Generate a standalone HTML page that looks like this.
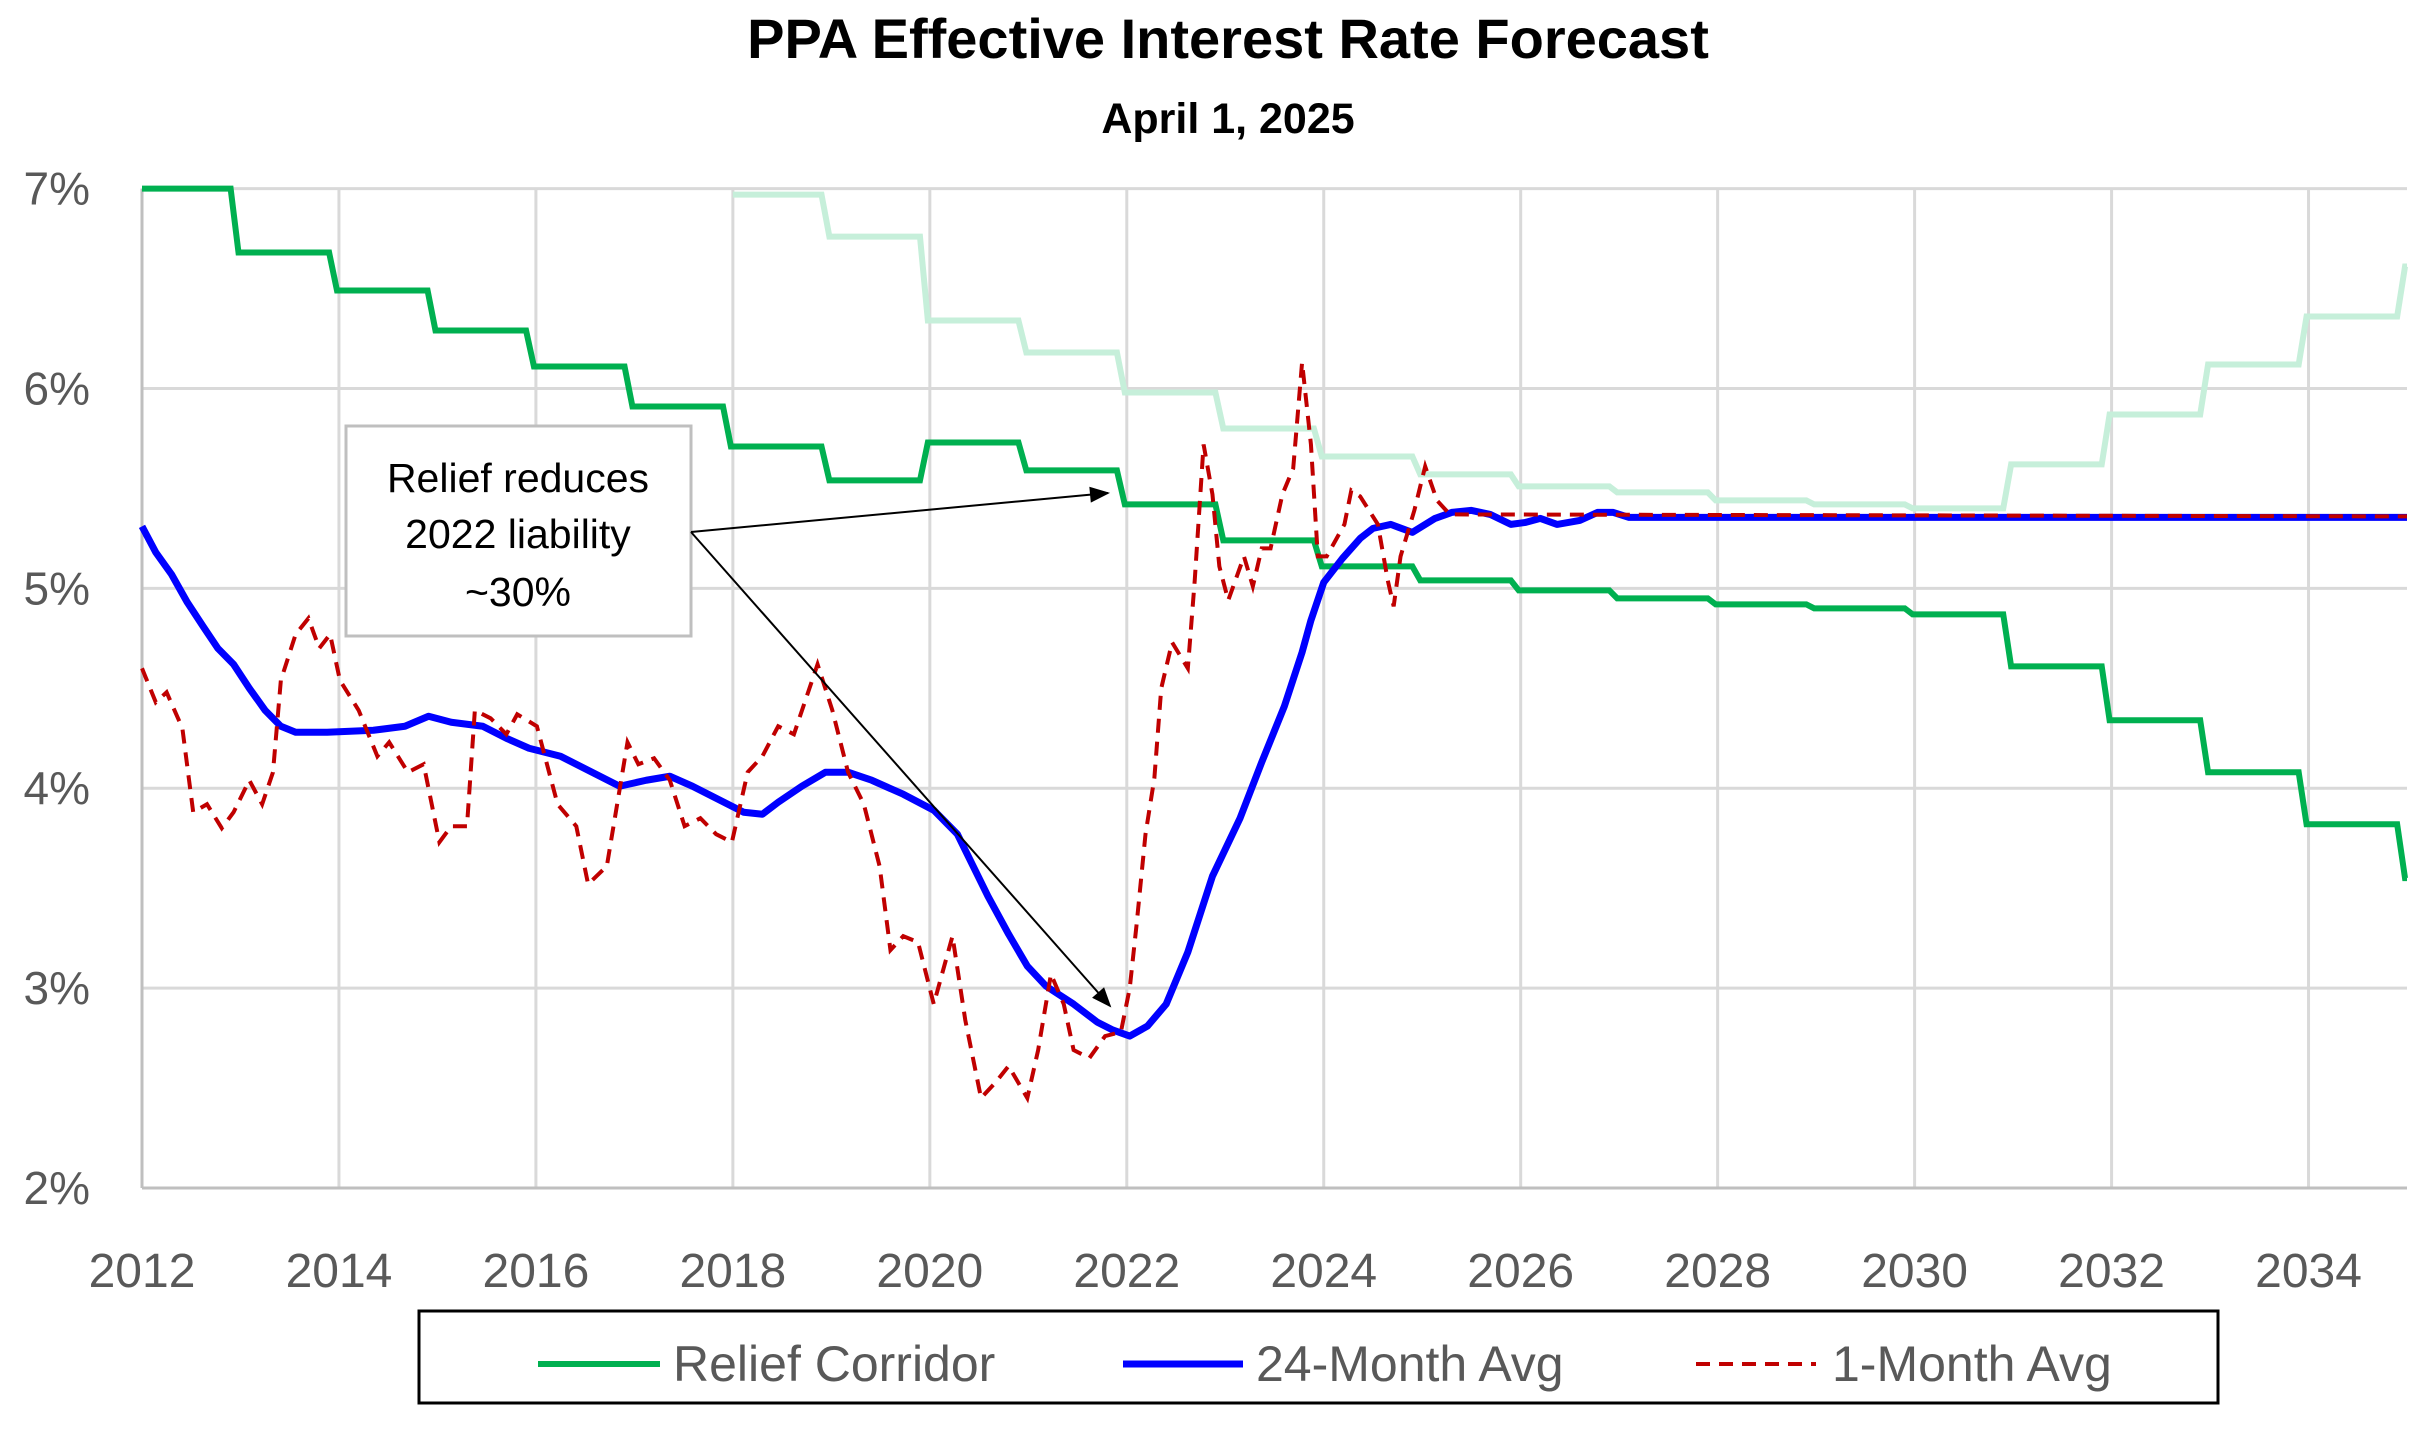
<!DOCTYPE html>
<html><head><meta charset="utf-8"><style>
html,body{margin:0;padding:0;background:#fff;}
svg{display:block;font-family:"Liberation Sans",sans-serif;}
</style></head><body>
<svg id="chart" width="2432" height="1435" viewBox="0 0 2432 1435" xmlns="http://www.w3.org/2000/svg">
<text x="1228" y="58" text-anchor="middle" font-size="56" font-weight="bold" fill="#000">PPA Effective Interest Rate Forecast</text>
<text x="1228" y="133" text-anchor="middle" font-size="43" font-weight="bold" fill="#000">April 1, 2025</text>
<g id="grid"></g>
<g id="series"></g>
<g id="annot">
<rect x="346" y="426" width="345" height="210" fill="#fff" stroke="#bfbfbf" stroke-width="3"/>
<text font-size="41" text-anchor="middle" fill="#000"><tspan x="518" y="492">Relief reduces</tspan><tspan x="518" y="548">2022 liability</tspan><tspan x="518" y="606">~30%</tspan></text>
</g>
<g id="legend">
<rect x="419" y="1311" width="1799" height="92" fill="#fff" stroke="#000" stroke-width="3"/>
<g><line x1="538" y1="1364" x2="660" y2="1364" stroke="#00b050" stroke-width="6"/><text x="673" y="1381" font-size="50" fill="#595959">Relief Corridor</text></g>
<g><line x1="1123" y1="1364" x2="1243" y2="1364" stroke="#0000ff" stroke-width="7"/><text x="1256" y="1381" font-size="50" fill="#595959">24-Month Avg</text></g>
<g><line x1="1696" y1="1364" x2="1816" y2="1364" stroke="#c00000" stroke-width="4" stroke-dasharray="14,9"/><text x="1832" y="1381" font-size="50" fill="#595959">1-Month Avg</text></g>
</g>
</svg>
<script>
const yearTicks = [2012,2014,2016,2018,2020,2022,2024,2026,2028,2030,2032,2034];
const rateTicks = [2,3,4,5,6,7];
const corridorYears = [2012,2013,2014,2015,2016,2017,2018,2019,2020,2021,2022,2023,2024,2025,2026,2027,2028,2029,2030,2031,2032,2033,2034,2035];
const corridorLow = [7.0,6.68,6.49,6.29,6.11,5.91,5.71,5.54,5.73,5.59,5.42,5.24,5.11,5.04,4.99,4.95,4.92,4.90,4.87,4.61,4.34,4.08,3.82,3.55];
const corridorHighYears = [2018,2019,2020,2021,2022,2023,2024,2025,2026,2027,2028,2029,2030,2031,2032,2033,2034,2035];
const corridorHigh = [6.97,6.76,6.34,6.18,5.98,5.80,5.66,5.57,5.51,5.48,5.44,5.42,5.40,5.62,5.87,6.12,6.36,6.61];
const avg24Years = [2012.00,2012.14,2012.30,2012.46,2012.62,2012.77,2012.93,2013.09,2013.25,2013.41,2013.56,2013.88,2014.35,2014.67,2014.91,2015.14,2015.46,2015.70,2015.93,2016.25,2016.57,2016.85,2017.12,2017.36,2017.59,2017.83,2018.11,2018.30,2018.46,2018.70,2018.94,2019.17,2019.41,2019.73,2020.04,2020.28,2020.44,2020.59,2020.80,2020.99,2021.18,2021.46,2021.70,2021.86,2022.03,2022.21,2022.40,2022.62,2022.87,2023.15,2023.37,2023.60,2023.78,2023.87,2024.00,2024.19,2024.37,2024.50,2024.68,2024.90,2025.13,2025.30,2025.50,2025.69,2025.90,2026.05,2026.20,2026.37,2026.60,2026.78,2026.94,2027.10,2035.0];
const avg24 = [5.31,5.18,5.07,4.93,4.81,4.70,4.62,4.50,4.39,4.31,4.28,4.28,4.29,4.31,4.36,4.33,4.31,4.25,4.20,4.16,4.08,4.01,4.04,4.06,4.01,3.95,3.88,3.87,3.93,4.01,4.08,4.08,4.04,3.97,3.89,3.77,3.61,3.46,3.27,3.11,3.01,2.92,2.83,2.79,2.76,2.81,2.92,3.18,3.56,3.85,4.13,4.41,4.68,4.84,5.03,5.15,5.25,5.30,5.32,5.28,5.35,5.38,5.39,5.37,5.32,5.33,5.35,5.32,5.34,5.38,5.38,5.355,5.355];
const avg1Years = [2012.00,2012.14,2012.25,2012.41,2012.52,2012.66,2012.81,2012.93,2013.09,2013.22,2013.33,2013.41,2013.56,2013.69,2013.80,2013.91,2014.01,2014.20,2014.39,2014.51,2014.70,2014.86,2015.02,2015.14,2015.30,2015.38,2015.54,2015.70,2015.81,2016.01,2016.22,2016.41,2016.53,2016.72,2016.93,2017.04,2017.20,2017.36,2017.51,2017.67,2017.83,2017.99,2018.15,2018.30,2018.46,2018.62,2018.86,2019.01,2019.17,2019.33,2019.49,2019.60,2019.73,2019.88,2020.04,2020.23,2020.36,2020.52,2020.67,2020.80,2020.99,2021.10,2021.23,2021.36,2021.46,2021.62,2021.78,2021.94,2022.03,2022.10,2022.19,2022.28,2022.35,2022.46,2022.62,2022.69,2022.78,2022.87,2022.94,2023.03,2023.19,2023.28,2023.37,2023.46,2023.58,2023.69,2023.78,2023.87,2023.94,2024.03,2024.12,2024.21,2024.28,2024.37,2024.55,2024.65,2024.71,2024.78,2024.92,2025.03,2025.15,2025.28,2035.0];
const avg1 = [4.60,4.43,4.48,4.30,3.88,3.92,3.80,3.88,4.04,3.92,4.08,4.54,4.77,4.85,4.70,4.77,4.54,4.39,4.16,4.23,4.08,4.12,3.73,3.81,3.81,4.39,4.35,4.27,4.37,4.31,3.92,3.81,3.52,3.61,4.23,4.12,4.15,4.04,3.81,3.85,3.77,3.73,4.08,4.16,4.31,4.27,4.62,4.39,4.08,3.92,3.61,3.19,3.26,3.23,2.92,3.26,2.84,2.45,2.53,2.61,2.45,2.69,3.07,2.92,2.69,2.65,2.76,2.78,3.00,3.32,3.77,4.05,4.50,4.73,4.60,5.04,5.72,5.47,5.11,4.94,5.16,5.01,5.20,5.20,5.47,5.60,6.13,5.72,5.16,5.16,5.24,5.32,5.49,5.46,5.32,5.04,4.91,5.16,5.39,5.61,5.44,5.37,5.36];

const X0=142, X1=2407, Y0=1188, Y1=188.6;
function xs(yr){return X0+(yr-2012)/(2035-2012)*(X1-X0);}
function ys(v){return Y0-(v-2)/(7-2)*(Y0-Y1);}
const NS="http://www.w3.org/2000/svg";
function mk(tag,parent,attrs){const e=document.createElementNS(NS,tag);for(const k in attrs)e.setAttribute(k,attrs[k]);parent.appendChild(e);return e;}
const grid=document.getElementById('grid');
rateTicks.forEach(v=>{
  const l=mk('line',grid,{x1:X0,x2:X1,y1:ys(v),y2:ys(v),stroke:'#d9d9d9','stroke-width':3});
  
  
  const t=mk('text',grid,{x:90,y:ys(v)+16,'text-anchor':'end','font-size':46,fill:'#595959'});
  t.textContent=v+'%';
  
  
});
yearTicks.forEach(y=>{
  const l=mk('line',grid,{x1:xs(y),x2:xs(y),y1:Y1,y2:Y0,stroke:'#d9d9d9','stroke-width':3});
  
  
  const t=mk('text',grid,{x:xs(y),y:1287,'text-anchor':'middle','font-size':48,fill:'#595959'});
  t.textContent=y;
  
  
});
const ax=mk('line',grid,{x1:X0,x2:X0,y1:Y1,y2:Y0,stroke:'#bfbfbf','stroke-width':3});


const bx=mk('line',grid,{x1:X0,x2:X1,y1:Y0,y2:Y0,stroke:'#bfbfbf','stroke-width':3});



const ser=document.getElementById('series');
function stepPath(yrs,vals){
  let d='M'+xs(yrs[0])+','+ys(vals[0]);
  for(let i=1;i<yrs.length;i++){
    d+=' L'+xs(yrs[i]-0.1)+','+ys(vals[i-1])+' L'+xs(yrs[i]-0.02)+','+ys(vals[i]);
  }
  d+=' L'+xs(2035)+','+ys(vals[vals.length-1]);
  return d;
}
function linePath(yrs,vals){return yrs.map((y,i)=>(i?'L':'M')+xs(y)+','+ys(vals[i])).join(' ');}
const hi=mk('path',ser,{d:stepPath(corridorHighYears,corridorHigh),fill:'none',stroke:'#c6efda','stroke-width':6});


const lo=mk('path',ser,{d:stepPath(corridorYears,corridorLow),fill:'none',stroke:'#00b050','stroke-width':6});


const b=mk('path',ser,{d:linePath(avg24Years,avg24),fill:'none',stroke:'#0000ff','stroke-width':7,'stroke-linejoin':'round'});


const r=mk('path',ser,{d:linePath(avg1Years,avg1),fill:'none',stroke:'#c00000','stroke-width':4,'stroke-dasharray':'14,9'});



const an=document.getElementById('annot');
const defs=mk('defs',an,{});
const m=mk('marker',defs,{id:'ah',markerWidth:24,markerHeight:20,refX:9,refY:5,orient:'auto',markerUnits:'userSpaceOnUse',viewBox:'0 0 10 10'});
mk('path',m,{d:'M0,1 L10,5 L0,9 z',fill:'#000'});
const a1=mk('line',an,{x1:691,y1:532,x2:1108,y2:493,stroke:'#000','stroke-width':2,'marker-end':'url(#ah)'});


const a2=mk('line',an,{x1:691,y1:532,x2:1110,y2:1006,stroke:'#000','stroke-width':2,'marker-end':'url(#ah)'});


</script>
</body></html>
